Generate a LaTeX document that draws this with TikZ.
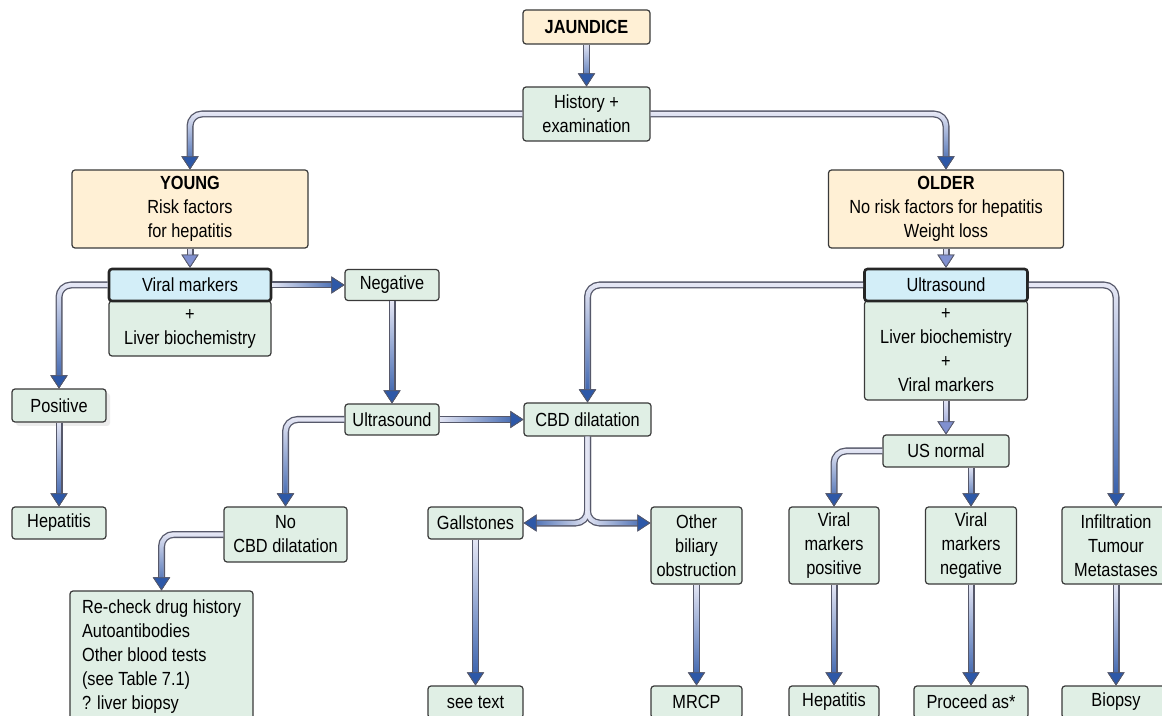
\documentclass[tikz,border=0pt]{standalone}
\usepackage{fontspec}
\setmainfont{Liberation Sans}[FakeStretch=0.86]
\usetikzlibrary{arrows.meta,fadings,shadows}

\definecolor{boxgreen}{HTML}{E0EFE5}
\definecolor{boxpeach}{HTML}{FFF0D5}
\definecolor{boxblue}{HTML}{D3EEF8}
\definecolor{boxedge}{HTML}{3A3A3A}
\definecolor{tubeedge}{HTML}{56586A}
\definecolor{tubelav}{HTML}{E8E9F6}
\definecolor{tubeblue}{HTML}{2D58A8}
\definecolor{tiplav}{HTML}{8090D0}

\newdimen\pxu \pxu=0.5pt

\tikzfading[name=tubedown, top color=transparent!100, bottom color=transparent!0]
\tikzfading[name=tuberight, left color=transparent!100, right color=transparent!0]
\tikzfading[name=tubeleft, left color=transparent!0, right color=transparent!100]

\begin{document}
\begin{tikzpicture}[x=0.5pt, y=-0.5pt]
  \tikzset{
    box/.style={draw=boxedge, line width=0.6pt, rounded corners=1.5pt, fill=boxgreen,
      inner sep=0pt, align=center, font=\fontsize{9.5pt}{12pt}\selectfont},
    warm box/.style={box, fill=boxpeach},
    test box/.style={box, fill=boxblue, draw=black!85, line width=1.3pt},
    tube edge/.style={draw=tubeedge, line width=3.5pt, rounded corners=6pt},
    tube core/.style 2 args={draw=tubelav, line width=2.2pt, rounded corners=6pt,
      >={Triangle[length=6.5pt, width=8.5pt, fill=#2, color=tubeedge, line width=0.4pt 0]}, ->,
      postaction={draw=#2, path fading=#1}},
    tube/.style 2 args={tube core={#1}{#2}, preaction={tube edge}},
    tube down/.style={tube={tubedown}{tubeblue}},
    tube right/.style={tube={tuberight}{tubeblue}},
    tube light/.style={tube={tubedown}{tiplav}}
  }
  \useasboundingbox (0,0) rectangle (1162,716);
  \clip (0,0) rectangle (1162,716);
  \fill[white] (0,0) rectangle (1162,716);

  % top
  \node [warm box, minimum width=127\pxu, minimum height=34\pxu] (jaund) at (586.5,27) {\textbf{JAUNDICE}};
  \node [box, minimum width=127\pxu, minimum height=54\pxu] (hist) at (586.5,114) {History +\\examination};
  \node [warm box, minimum width=236\pxu, minimum height=78\pxu] (young) at (190,209) {\textbf{YOUNG}\\Risk factors\\for hepatitis};
  \node [warm box, minimum width=235\pxu, minimum height=78\pxu] (older) at (946,209) {\textbf{OLDER}\\No risk factors for hepatitis\\Weight loss};

  % young side
  \node [box, minimum width=162\pxu, minimum height=55\pxu] (vbio) at (190,328.5) {+\\Liver biochemistry};
  \node [test box, minimum width=162\pxu, minimum height=32\pxu] (viral) at (190,285) {Viral markers};
  \node [box, minimum width=94\pxu, minimum height=31\pxu] (neg) at (392,285) {Negative};
  \node [box, minimum width=94\pxu, minimum height=33\pxu,
    drop shadow={shadow xshift=2pt, shadow yshift=-2pt, fill=black!14}] (pos) at (59,405.5) {Positive};
  \node [box, minimum width=94\pxu, minimum height=32\pxu] (hepl) at (59,523) {Hepatitis};
  \node [box, minimum width=94\pxu, minimum height=31\pxu] (usl) at (392,419.5) {Ultrasound};
  \node [box, minimum width=127\pxu, minimum height=33\pxu] (cbd) at (587.5,419.5) {CBD dilatation};
  \node [box, minimum width=123\pxu, minimum height=55\pxu] (nocbd) at (285.5,534.5) {No\\CBD dilatation};
  \node [box, align=left, minimum width=183\pxu, minimum height=131\pxu] (recheck) at (161.5,656.5)
    {Re-check drug history\\Autoantibodies\\Other blood tests\\(see Table 7.1)\\? liver biopsy};
  \node [box, minimum width=95\pxu, minimum height=32\pxu] (gall) at (475.5,523) {Gallstones};
  \node [box, minimum width=95\pxu, minimum height=32\pxu] (seetext) at (475.5,702) {see text};
  \node [box, minimum width=91\pxu, minimum height=77\pxu] (other) at (696.5,545.5) {Other\\biliary\\obstruction};
  \node [box, minimum width=91\pxu, minimum height=32\pxu] (mrcp) at (696.5,702) {MRCP};

  % older side
  \node [box, minimum width=163\pxu, minimum height=99\pxu] (usbio) at (946,350.5) {+\\Liver biochemistry\\+\\Viral markers};
  \node [test box, minimum width=163\pxu, minimum height=32\pxu] (usr) at (946,285) {Ultrasound};
  \node [box, minimum width=126\pxu, minimum height=32\pxu] (usn) at (946,451) {US normal};
  \node [box, minimum width=90\pxu, minimum height=77\pxu] (vmpos) at (834,545.5) {Viral\\markers\\positive};
  \node [box, minimum width=91\pxu, minimum height=77\pxu] (vmneg) at (971,545.5) {Viral\\markers\\negative};
  \node [box, minimum width=108\pxu, minimum height=77\pxu] (infil) at (1116,545.5) {Infiltration\\Tumour\\Metastases};
  \node [box, minimum width=90\pxu, minimum height=32\pxu] (hepr) at (834,702) {Hepatitis};
  \node [box, minimum width=114\pxu, minimum height=32\pxu] (proceed) at (971,702) {Proceed as*};
  \node [box, minimum width=108\pxu, minimum height=32\pxu] (biopsy) at (1116,702) {Biopsy};

  \coordinate (otherin) at (other.west |- gall.east);

  % connectors
  \draw [tube down] (jaund) -- (hist);
  \draw [tube down] (hist.west) -| (young.north);
  \draw [tube down] (hist.east) -| (older.north);
  \draw [tube light] (young) -- (viral);
  \draw [tube light] (older) -- (usr);

  \draw [tube down] (viral.west) -| (pos.north);
  \draw [tube right] (viral) -- (neg);
  \draw [tube down] (pos) -- (hepl);
  \draw [tube down] (neg) -- (usl);
  \draw [tube right] (usl) -- (cbd);
  \draw [tube down] (usl.west) -| (nocbd.north);
  \draw [tube down] (nocbd.west) -| (recheck.north);

  % fork: both edges first, then both cores
  \draw [tube edge, shorten >=6pt] (cbd.south) |- (gall.east);
  \draw [tube edge, shorten >=6pt] (cbd.south) |- (otherin);
  \draw [tube core={tubeleft}{tubeblue}] (cbd.south) |- (gall.east);
  \draw [tube core={tuberight}{tubeblue}] (cbd.south) |- (otherin);

  \draw [tube down] (gall) -- (seetext);
  \draw [tube down] (other) -- (mrcp);

  \draw [tube down] (usr.west) -| (cbd.north);
  \draw [tube down] (usr.east) -| (infil.north);
  \draw [tube light] (usbio) -- (usn);
  \draw [tube down] (usn.west) -| (vmpos.north);
  \draw [tube down] (usn.south -| vmneg.north) -- (vmneg.north);
  \draw [tube down] (vmpos) -- (hepr);
  \draw [tube down] (vmneg) -- (proceed);
  \draw [tube down] (infil) -- (biopsy);
\end{tikzpicture}
\end{document}
